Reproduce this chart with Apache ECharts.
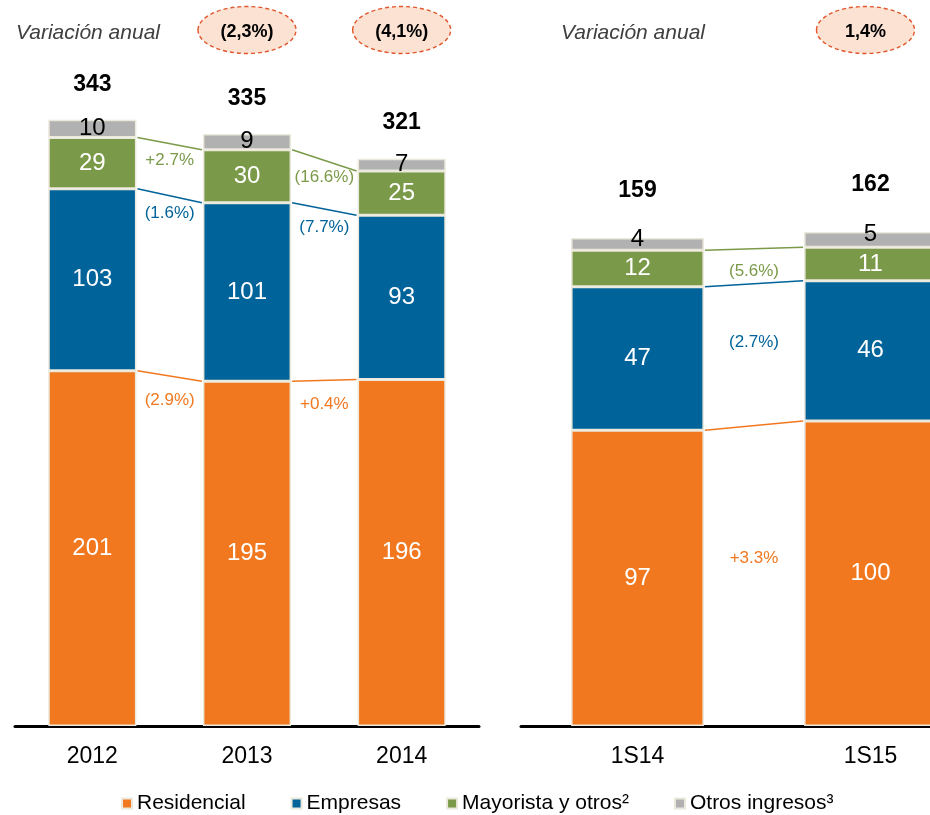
<!DOCTYPE html>
<html>
<head>
<meta charset="utf-8">
<script src="https://cdn.jsdelivr.net/npm/echarts@6/dist/echarts.min.js"></script>
<style>
html, body { margin: 0; padding: 0; background: #fff; }
#chart { width: 930px; height: 815px; }
</style>
</head>
<body>
<div id="chart"></div>
<script>
// --- annual panel ---
const yearCats = ['2012', '2013', '2014'];
const yearResidencial = [201, 195, 196];
const yearEmpresas = [103, 101, 93];
const yearMayorista = [29, 30, 25];
const yearOtros = [10, 9, 7];
const yearTotals = [343, 335, 321];
const yearChgResidencial = ['(2.9%)', '+0.4%'];
const yearChgEmpresas = ['(1.6%)', '(7.7%)'];
const yearChgMayorista = ['+2.7%', '(16.6%)'];
const yearVariation = ['(2,3%)', '(4,1%)'];

// --- half-year panel ---
const halfCats = ['1S14', '1S15'];
const halfResidencial = [97, 100];
const halfEmpresas = [47, 46];
const halfMayorista = [12, 11];
const halfOtros = [4, 5];
const halfTotals = [159, 162];
const halfChgResidencial = ['+3.3%'];
const halfChgEmpresas = ['(2.7%)'];
const halfChgMayorista = ['(5.6%)'];
const halfVariation = ['1,4%'];

const names = ['Residencial', 'Empresas', 'Mayorista y otros²', 'Otros ingresos³'];
const colors = ['#f1781f', '#00639a', '#7b9a49', '#b1b1b1'];
const FONT = "'Liberation Sans', Arial, sans-serif";
const BAR_W = 0.57;

function panelSeries(idx, stacks, totals, changes, labelDy, totalDist, greyOffset) {
  const out = [];
  stacks.forEach((vals, k) => {
    out.push({
      type: 'bar',
      name: names[k],
      xAxisIndex: idx,
      yAxisIndex: idx,
      stack: 'p' + idx,
      barWidth: (BAR_W * 100) + '%',
      data: vals,
      itemStyle: { color: colors[k], borderColor: '#ebe8dc', borderWidth: 1.5 },
      label: {
        show: true,
        position: 'inside',
        color: k === 3 ? '#000' : '#fff',
        fontSize: 24,
        fontFamily: FONT,
        offset: k === 3 ? [0, greyOffset] : [0, 0]
      }
    });
  });
  // totals on top of each bar
  out.push({
    type: 'bar',
    name: 'total',
    xAxisIndex: idx,
    yAxisIndex: idx,
    stack: 'p' + idx,
    silent: true,
    data: totals.map(() => 0),
    itemStyle: { color: 'transparent', borderWidth: 0 },
    label: {
      show: true,
      position: 'top',
      distance: totalDist,
      formatter: p => totals[p.dataIndex],
      color: '#000',
      fontWeight: 'bold',
      fontSize: 23,
      fontFamily: FONT
    }
  });
  // connector lines with change labels
  const conn = [];
  for (let i = 0; i < stacks[0].length - 1; i++) {
    let a = 0, b = 0;
    for (let k = 0; k < 3; k++) {
      a += stacks[k][i];
      b += stacks[k][i + 1];
      conn.push([i, a, b, k]);
    }
  }
  out.push({
    type: 'custom',
    xAxisIndex: idx,
    yAxisIndex: idx,
    silent: true,
    encode: { x: 0, y: [1, 2] },
    data: conn,
    z: 5,
    renderItem: function (params, api) {
      const i = api.value(0), k = api.value(3);
      const p1 = api.coord([i, api.value(1)]);
      const p2 = api.coord([i + 1, api.value(2)]);
      const hw = api.size([1, 0])[0] * BAR_W / 2;
      const x1 = p1[0] + hw + 1, x2 = p2[0] - hw - 1;
      return {
        type: 'group',
        children: [
          { type: 'line', shape: { x1: x1, y1: p1[1], x2: x2, y2: p2[1] },
            style: { stroke: colors[k], lineWidth: 1.5 } },
          { type: 'text',
            style: { text: changes[k][i], x: (x1 + x2) / 2, y: (p1[1] + p2[1]) / 2 + labelDy[k],
                     fill: colors[k], fontSize: 17, fontFamily: FONT,
                     align: 'center', verticalAlign: 'middle' } }
        ]
      };
    }
  });
  return out;
}

const chart = echarts.init(document.getElementById('chart'));

const xAxisBase = {
  type: 'category',
  axisLine: { lineStyle: { color: '#000', width: 3 } },
  axisTick: { show: false },
  axisLabel: { color: '#000', fontSize: 23, margin: 19, fontFamily: FONT }
};

chart.setOption({
  animation: false,
  grid: [
    { left: 15, width: 464, top: 19, height: 707, outerBoundsMode: 'none' },
    { left: 521, width: 466, top: 116, height: 610, outerBoundsMode: 'none' }
  ],
  xAxis: [
    Object.assign({ gridIndex: 0, data: yearCats }, xAxisBase),
    Object.assign({ gridIndex: 1, data: halfCats }, xAxisBase)
  ],
  yAxis: [
    { type: 'value', gridIndex: 0, min: 0, max: 400, show: false },
    { type: 'value', gridIndex: 1, min: 0, max: 200, show: false }
  ],
  legend: {
    data: names,
    left: 116,
    top: 788,
    icon: 'rect',
    itemWidth: 10,
    itemHeight: 10,
    itemGap: 45,
    textStyle: { color: '#000', fontSize: 21, fontFamily: FONT }
  },
  series: [].concat(
    panelSeries(0, [yearResidencial, yearEmpresas, yearMayorista, yearOtros], yearTotals,
      [yearChgResidencial, yearChgEmpresas, yearChgMayorista], [24, 18, 17], 24, 0),
    panelSeries(1, [halfResidencial, halfEmpresas, halfMayorista, halfOtros], halfTotals,
      [halfChgResidencial, halfChgEmpresas, halfChgMayorista], [133, 59, 23], 36, -5)
  )
});

// header: "Variación anual" with dashed ellipses above the compared bars
function bubble(x, txt) {
  return [
    { type: 'ellipse', shape: { cx: x, cy: 30, rx: 49, ry: 23.5 },
      style: { fill: '#fbe2d2', stroke: '#e0552b', lineWidth: 1.4, lineDash: [4, 3] } },
    { type: 'text', x: x, y: 32,
      style: { text: txt, fill: '#000', fontSize: 18, fontWeight: 'bold', fontFamily: FONT,
               align: 'center', verticalAlign: 'middle' } }
  ];
}
const graphics = [
  { type: 'text', x: 16, y: 33,
    style: { text: 'Variación anual', fill: '#404040', fontSize: 21, fontStyle: 'italic',
             fontFamily: FONT, verticalAlign: 'middle' } },
  { type: 'text', x: 561, y: 33,
    style: { text: 'Variación anual', fill: '#404040', fontSize: 21, fontStyle: 'italic',
             fontFamily: FONT, verticalAlign: 'middle' } }
];
yearVariation.forEach((t, i) => {
  const px = chart.convertToPixel({ gridIndex: 0 }, [i + 1, 0]);
  graphics.push(...bubble(px[0], t));
});
halfVariation.forEach((t, i) => {
  const px = chart.convertToPixel({ gridIndex: 1 }, [i + 1, 0]);
  graphics.push(...bubble(px[0] - 5, t));
});
chart.setOption({ graphic: graphics });
</script>
</body>
</html>
